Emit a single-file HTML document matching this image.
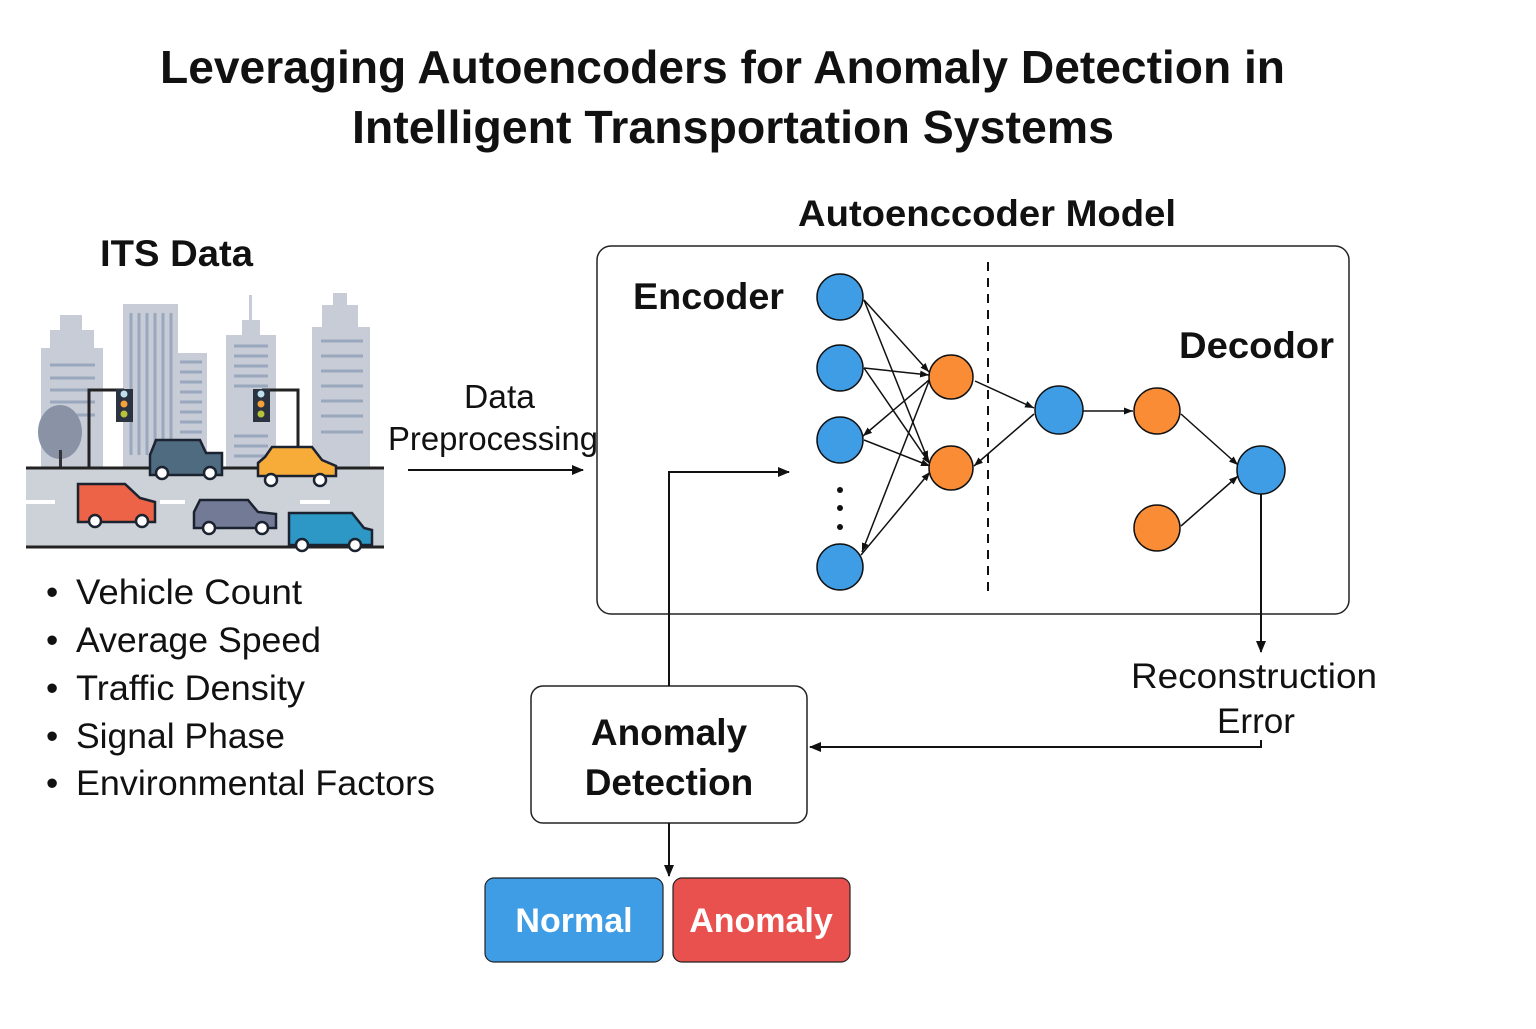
<!DOCTYPE html>
<html><head><meta charset="utf-8"><style>
html,body{margin:0;padding:0;background:#fff}
svg text{font-family:"Liberation Sans","DejaVu Sans",sans-serif}
</style></head><body>
<svg width="1536" height="1024" viewBox="0 0 1536 1024" xmlns="http://www.w3.org/2000/svg">
<defs>
<marker id="a" markerWidth="12" markerHeight="12" refX="11" refY="6" orient="auto" markerUnits="userSpaceOnUse"><path d="M0,1 L12,6 L0,11 z" fill="#111"/></marker>
<marker id="as" markerWidth="9" markerHeight="9" refX="9" refY="4.5" orient="auto" markerUnits="userSpaceOnUse"><path d="M0,1 L9,4.5 L0,8 z" fill="#111"/></marker>
</defs>
<text x="160" y="83" font-size="46" font-weight="bold" textLength="1125" lengthAdjust="spacingAndGlyphs" fill="#111">Leveraging Autoencoders for Anomaly Detection in</text>
<text x="352" y="143" font-size="46" font-weight="bold" textLength="762" lengthAdjust="spacingAndGlyphs" fill="#111">Intelligent Transportation Systems</text>
<text x="100" y="266" font-size="37" font-weight="bold" textLength="153" lengthAdjust="spacingAndGlyphs" fill="#111">ITS Data</text>
<text x="798" y="226" font-size="37" font-weight="bold" textLength="378" lengthAdjust="spacingAndGlyphs" fill="#111">Autoenccoder Model</text>

<!-- city -->
<g fill="#c7ccd6">
<rect x="41" y="348" width="62" height="120"/><rect x="50" y="330" width="44" height="20"/><rect x="60" y="315" width="22" height="16"/>
<rect x="123" y="304" width="55" height="164"/><rect x="177" y="353" width="30" height="115"/>
<rect x="226" y="335" width="50" height="133"/><rect x="242" y="320" width="18" height="16"/><rect x="249" y="295" width="3" height="26"/>
<rect x="312" y="327" width="58" height="141"/><rect x="322" y="305" width="36" height="23"/><rect x="333" y="293" width="14" height="13"/>
</g>
<g stroke="#9aa8bd" stroke-width="3">
<line x1="50" y1="365" x2="95" y2="365"/><line x1="50" y1="378" x2="95" y2="378"/><line x1="50" y1="390" x2="95" y2="390"/><line x1="50" y1="402" x2="95" y2="402"/><line x1="50" y1="415" x2="95" y2="415"/>
<line x1="131" y1="313" x2="131" y2="455"/><line x1="139" y1="313" x2="139" y2="455"/><line x1="147" y1="313" x2="147" y2="455"/><line x1="155" y1="313" x2="155" y2="455"/><line x1="163" y1="313" x2="163" y2="455"/><line x1="171" y1="313" x2="171" y2="455"/>
<line x1="180" y1="362" x2="202" y2="362"/><line x1="180" y1="372" x2="202" y2="372"/><line x1="180" y1="382" x2="202" y2="382"/><line x1="180" y1="392" x2="202" y2="392"/><line x1="180" y1="402" x2="202" y2="402"/><line x1="180" y1="412" x2="202" y2="412"/><line x1="180" y1="422" x2="202" y2="422"/><line x1="180" y1="432" x2="202" y2="432"/>
<line x1="234" y1="346" x2="268" y2="346"/><line x1="234" y1="356" x2="268" y2="356"/><line x1="234" y1="366" x2="268" y2="366"/><line x1="234" y1="376" x2="268" y2="376"/><line x1="234" y1="386" x2="268" y2="386"/><line x1="234" y1="436" x2="268" y2="436"/><line x1="234" y1="446" x2="268" y2="446"/><line x1="234" y1="456" x2="268" y2="456"/>
<line x1="321" y1="341" x2="363" y2="341"/><line x1="321" y1="356" x2="363" y2="356"/><line x1="321" y1="371" x2="363" y2="371"/><line x1="321" y1="386" x2="363" y2="386"/><line x1="321" y1="401" x2="363" y2="401"/><line x1="321" y1="416" x2="363" y2="416"/><line x1="321" y1="432" x2="363" y2="432"/>
</g>
<ellipse cx="60" cy="432" rx="22" ry="27" fill="#8a93a6"/><rect x="59" y="450" width="3" height="18" fill="#333"/>
<rect x="26" y="468" width="358" height="80" fill="#cdd1d8"/>
<line x1="26" y1="468" x2="384" y2="468" stroke="#222" stroke-width="3"/>
<line x1="26" y1="547" x2="384" y2="547" stroke="#222" stroke-width="3"/>
<g stroke="#fff" stroke-width="4"><line x1="26" y1="502" x2="55" y2="502"/><line x1="160" y1="502" x2="185" y2="502"/><line x1="300" y1="502" x2="330" y2="502"/></g>
<path d="M89,468 V390 H124" stroke="#222" stroke-width="3" fill="none"/>
<rect x="116" y="389" width="17" height="33" fill="#2b3240"/><circle cx="124" cy="394" r="3.5" fill="#bfe0f0"/><circle cx="124" cy="404" r="3.5" fill="#f6a23a"/><circle cx="124" cy="414" r="3.5" fill="#b9c33a"/>
<path d="M298,468 V390 H262" stroke="#222" stroke-width="3" fill="none"/>
<rect x="253" y="389" width="17" height="33" fill="#2b3240"/><circle cx="261" cy="394" r="3.5" fill="#bfe0f0"/><circle cx="261" cy="404" r="3.5" fill="#f6a23a"/><circle cx="261" cy="414" r="3.5" fill="#b9c33a"/>
<g stroke="#1c2330" stroke-width="2.5">
<path d="M150,475 V455 L156,440 H200 L206,453 H222 V475 Z" fill="#4f6b80"/>
<path d="M258,476 V463 L265,457 L272,447 H312 L322,460 L336,466 V476 Z" fill="#f7ac3a"/>
<path d="M78,522 V484 H125 L140,498 L155,502 V522 Z" fill="#ec6347"/>
<path d="M194,528 V512 L200,500 H248 L258,512 L276,514 V528 Z" fill="#737a95"/>
<path d="M289,545 V513 H352 L364,528 L372,530 V545 Z" fill="#2d98c5"/>
</g>
<g fill="#fff" stroke="#1c2330" stroke-width="2.5">
<circle cx="162" cy="473" r="6"/><circle cx="210" cy="473" r="6"/>
<circle cx="271" cy="480" r="6"/><circle cx="320" cy="480" r="6"/>
<circle cx="95" cy="521" r="6"/><circle cx="142" cy="521" r="6"/>
<circle cx="209" cy="528" r="6"/><circle cx="262" cy="528" r="6"/>
<circle cx="302" cy="545" r="6"/><circle cx="355" cy="545" r="6"/>
</g>

<g font-size="35" fill="#111">
<text x="46" y="604">•</text><text x="76" y="604" textLength="226" lengthAdjust="spacingAndGlyphs">Vehicle Count</text>
<text x="46" y="652">•</text><text x="76" y="652" textLength="245" lengthAdjust="spacingAndGlyphs">Average Speed</text>
<text x="46" y="700">•</text><text x="76" y="700" textLength="229" lengthAdjust="spacingAndGlyphs">Traffic Density</text>
<text x="46" y="748">•</text><text x="76" y="748" textLength="209" lengthAdjust="spacingAndGlyphs">Signal Phase</text>
<text x="46" y="795">•</text><text x="76" y="795" textLength="359" lengthAdjust="spacingAndGlyphs">Environmental Factors</text>
</g>

<text x="464" y="408" font-size="33" textLength="71" lengthAdjust="spacingAndGlyphs" fill="#111">Data</text>
<text x="388" y="450" font-size="33" textLength="210" lengthAdjust="spacingAndGlyphs" fill="#111">Preprocessing</text>
<line x1="408" y1="470" x2="583" y2="470" stroke="#111" stroke-width="2" marker-end="url(#a)"/>

<rect x="597" y="246" width="752" height="368" rx="14" fill="none" stroke="#222" stroke-width="1.5"/>
<text x="633" y="309" font-size="37" font-weight="bold" textLength="151" lengthAdjust="spacingAndGlyphs" fill="#111">Encoder</text>
<text x="1179" y="358" font-size="37" font-weight="bold" textLength="155" lengthAdjust="spacingAndGlyphs" fill="#111">Decodor</text>
<line x1="988" y1="262" x2="988" y2="596" stroke="#111" stroke-width="2" stroke-dasharray="9,7"/>

<g stroke="#111" stroke-width="1.5" fill="none" marker-end="url(#as)">
<line x1="864" y1="300" x2="929" y2="372"/><line x1="864" y1="300" x2="928" y2="460"/>
<line x1="864" y1="368" x2="929" y2="375"/><line x1="864" y1="368" x2="930" y2="464"/>
<line x1="864" y1="440" x2="930" y2="466"/><line x1="929" y1="380" x2="863" y2="436"/>
<line x1="929" y1="381" x2="862" y2="552"/><line x1="861" y1="555" x2="930" y2="472"/>
<line x1="975" y1="381" x2="1034" y2="408"/><line x1="1034" y1="414" x2="974" y2="466"/>
<line x1="1082" y1="411" x2="1133" y2="411"/>
<line x1="1181" y1="414" x2="1238" y2="465"/><line x1="1181" y1="526" x2="1238" y2="476"/>
</g>
<g stroke="#111" stroke-width="1.5">
<g fill="#3f9de5">
<circle cx="840" cy="297" r="23"/><circle cx="840" cy="368" r="23"/><circle cx="840" cy="440" r="23"/><circle cx="840" cy="567" r="23"/>
<circle cx="1059" cy="410" r="24"/><circle cx="1261" cy="470" r="24"/>
</g>
<g fill="#f98c35">
<circle cx="951" cy="377" r="22"/><circle cx="951" cy="468" r="22"/>
<circle cx="1157" cy="411" r="23"/><circle cx="1157" cy="528" r="23"/>
</g>
</g>
<g fill="#111"><circle cx="840" cy="490" r="3"/><circle cx="840" cy="508" r="3"/><circle cx="840" cy="527" r="3"/></g>

<line x1="1261" y1="494" x2="1261" y2="652" stroke="#111" stroke-width="2" marker-end="url(#a)"/>
<text x="1131" y="688" font-size="35" textLength="246" lengthAdjust="spacingAndGlyphs" fill="#111">Reconstruction</text>
<text x="1217" y="733" font-size="35" textLength="78" lengthAdjust="spacingAndGlyphs" fill="#111">Error</text>
<path d="M1261,740 V747 H810" stroke="#111" stroke-width="2" fill="none" marker-end="url(#a)"/>

<rect x="531" y="686" width="276" height="137" rx="12" fill="#fff" stroke="#222" stroke-width="1.5"/>
<text x="669" y="745" font-size="37" font-weight="bold" text-anchor="middle" fill="#111">Anomaly</text>
<text x="669" y="795" font-size="37" font-weight="bold" text-anchor="middle" fill="#111">Detection</text>
<path d="M669,686 V472 H789" stroke="#111" stroke-width="2" fill="none" marker-end="url(#a)"/>
<line x1="669" y1="823" x2="669" y2="876" stroke="#111" stroke-width="2" marker-end="url(#a)"/>

<rect x="485" y="878" width="178" height="84" rx="9" fill="#3f9de5" stroke="#222" stroke-width="1.2"/>
<text x="574" y="932" font-size="34" font-weight="bold" text-anchor="middle" fill="#fff">Normal</text>
<rect x="673" y="878" width="177" height="84" rx="9" fill="#e9514f" stroke="#222" stroke-width="1.2"/>
<text x="761" y="932" font-size="34" font-weight="bold" text-anchor="middle" fill="#fff">Anomaly</text>
</svg>
</body></html>
